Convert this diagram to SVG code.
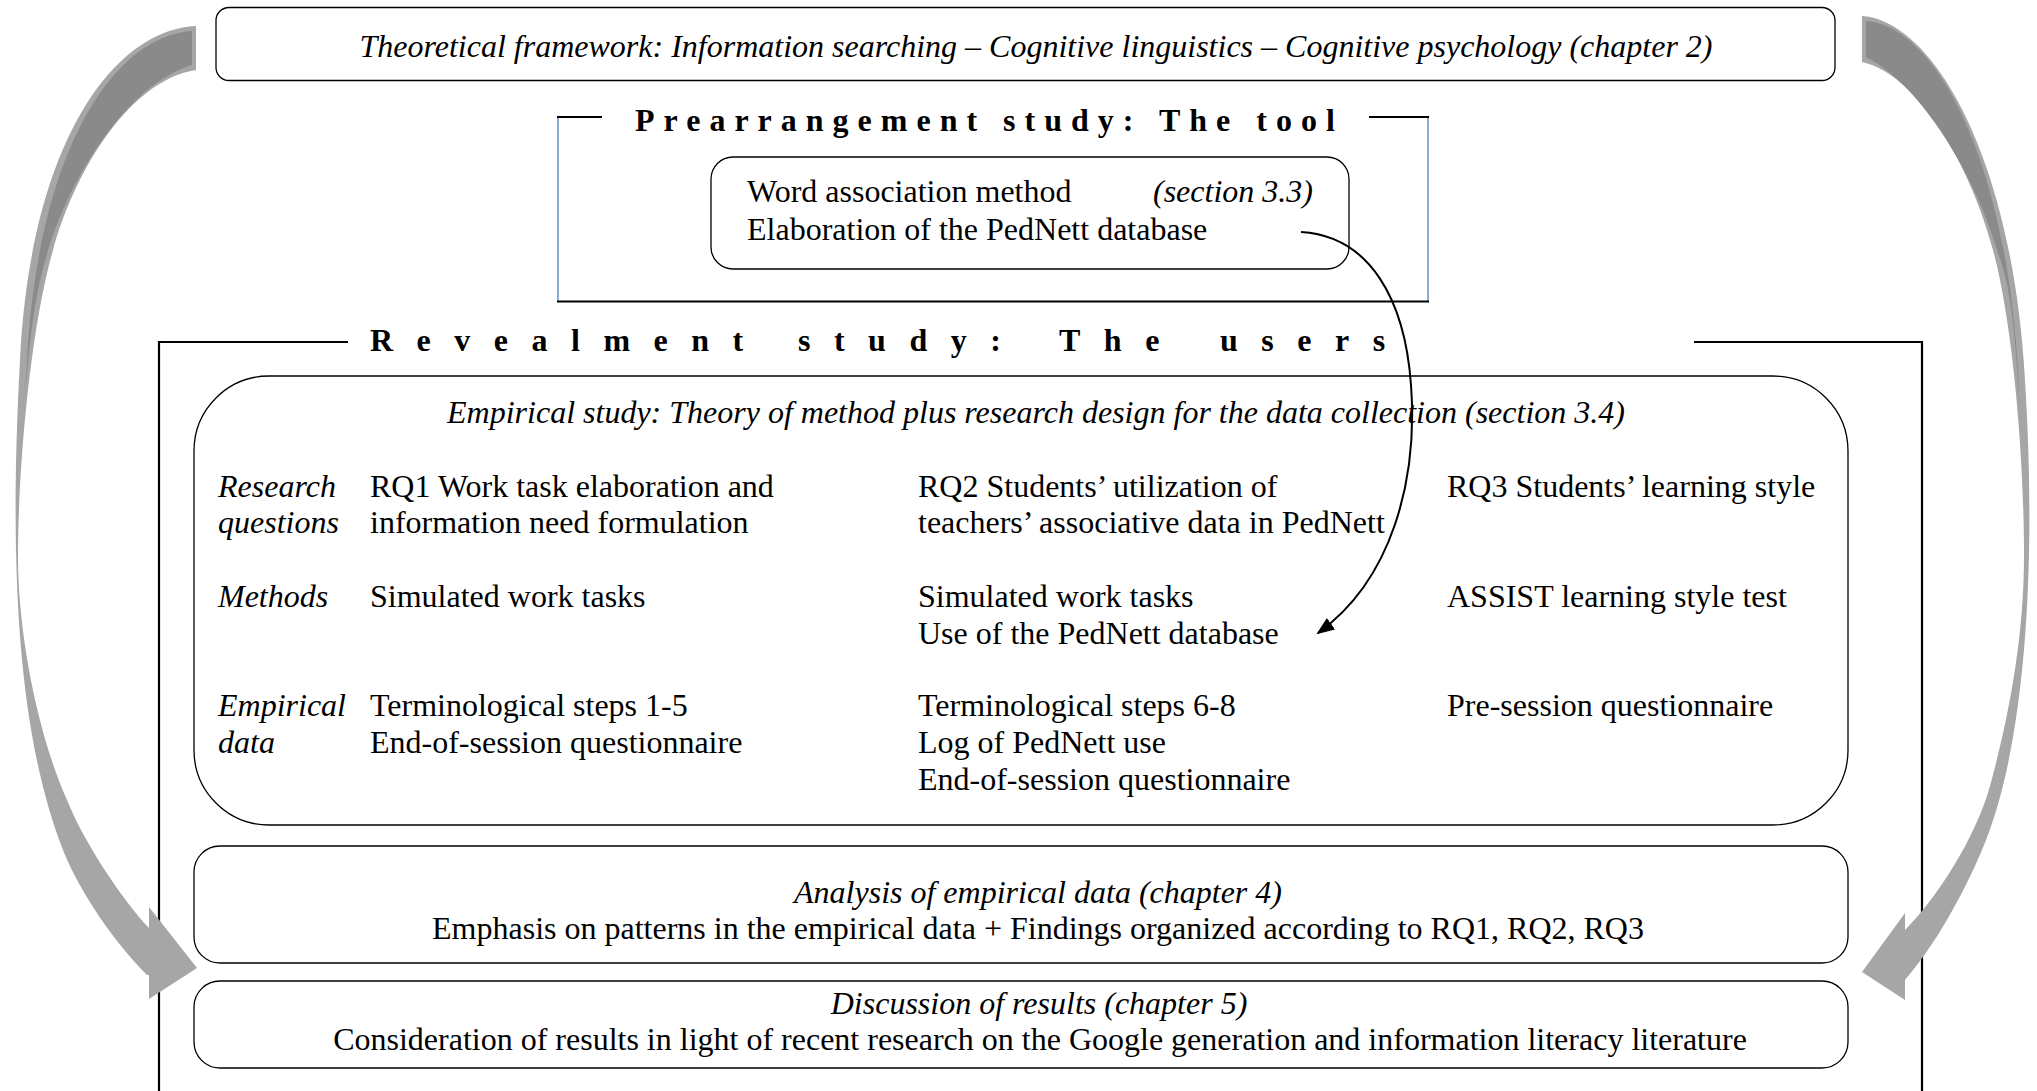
<svg xmlns="http://www.w3.org/2000/svg" width="2037" height="1091" viewBox="0 0 2037 1091">
<style>
text{font-family:"Liberation Serif","Times New Roman",serif;font-size:32px;fill:#000}
.it{font-style:italic}
.ttl{font-weight:bold;font-size:32px}
.box{fill:none;stroke:#000;stroke-width:1.3}
.frame{fill:none;stroke:#000;stroke-width:2.2}
.blue{fill:none;stroke:#4f81bd;stroke-width:1.3}
.band{fill:#a6a6a6}
.back{fill:#8a8a8a}
.conn{fill:none;stroke:#000;stroke-width:2}
</style>
<defs>
<marker id="ah" viewBox="0 0 18 14" refX="16" refY="7" markerWidth="18" markerHeight="14" markerUnits="userSpaceOnUse" orient="auto">
<path d="M0,0 L18,7 L0,14 z" fill="#000"/>
</marker>
</defs>
<rect width="2037" height="1091" fill="#fff"/>

<g id="theory">
<rect class="box" x="216" y="7.5" width="1619" height="73" rx="13"/>
<text class="it" x="1036" y="57" text-anchor="middle">Theoretical framework: Information searching – Cognitive linguistics – Cognitive psychology (chapter 2)</text>
</g>

<g id="prearrangement">
<line class="blue" x1="558" y1="117" x2="558" y2="302"/>
<line class="blue" x1="1428" y1="117" x2="1428" y2="302"/>
<line class="frame" x1="557" y1="117" x2="602" y2="117"/>
<line class="frame" x1="1369" y1="117" x2="1429" y2="117"/>
<line class="frame" x1="557" y1="301.5" x2="1429" y2="301.5"/>
<text class="ttl" x="635" y="131" letter-spacing="9">Prearrangement study: The tool</text>
</g>

<g id="word-association">
<rect class="box" x="711" y="157" width="638" height="112" rx="22"/>
<text x="747" y="202">Word association method</text>
<text class="it" x="1153" y="202">(section 3.3)</text>
<text x="747" y="240">Elaboration of the PedNett database</text>
</g>

<g id="revealment">
<polyline class="frame" points="348,342 159,342 159,1091"/>
<polyline class="frame" points="1694,342 1922,342 1922,1091"/>
<text class="ttl" y="351" letter-spacing="23.5"><tspan x="370">Revealment</tspan><tspan x="798">study:</tspan><tspan x="1059">The</tspan><tspan x="1220">users</tspan></text>
</g>

<g id="empirical-study">
<rect class="box" x="194" y="376" width="1654" height="449" rx="75"/>
<text class="it" x="1036" y="423" text-anchor="middle">Empirical study: Theory of method plus research design for the data collection (section 3.4)</text>
<text class="it" x="218" y="497">Research</text>
<text class="it" x="218" y="533">questions</text>
<text class="it" x="218" y="607">Methods</text>
<text class="it" x="218" y="716">Empirical</text>
<text class="it" x="218" y="753">data</text>
<text x="370" y="497">RQ1 Work task elaboration and</text>
<text x="370" y="533">information need formulation</text>
<text x="370" y="607">Simulated work tasks</text>
<text x="370" y="716">Terminological steps 1-5</text>
<text x="370" y="753">End-of-session questionnaire</text>
<text x="918" y="497">RQ2 Students’ utilization of</text>
<text x="918" y="533">teachers’ associative data in PedNett</text>
<text x="918" y="607">Simulated work tasks</text>
<text x="918" y="644">Use of the PedNett database</text>
<text x="918" y="716">Terminological steps 6-8</text>
<text x="918" y="753">Log of PedNett use</text>
<text x="918" y="790">End-of-session questionnaire</text>
<text x="1447" y="497">RQ3 Students’ learning style</text>
<text x="1447" y="607">ASSIST learning style test</text>
<text x="1447" y="716">Pre-session questionnaire</text>
</g>

<g id="analysis">
<rect class="box" x="194" y="846" width="1654" height="117" rx="26"/>
<text class="it" x="1038" y="903" text-anchor="middle">Analysis of empirical data (chapter 4)</text>
<text x="1038" y="939" text-anchor="middle">Emphasis on patterns in the empirical data + Findings organized according to RQ1, RQ2, RQ3</text>
</g>

<g id="discussion">
<rect class="box" x="194" y="981" width="1654" height="87" rx="26"/>
<text class="it" x="1039" y="1014" text-anchor="middle">Discussion of results (chapter 5)</text>
<text x="1040" y="1050" text-anchor="middle">Consideration of results in light of recent research on the Google generation and information literacy literature</text>
</g>

<g id="connectors">
<g id="left-loop-arrow">
<path class="band" d="M196,26 C110,30 30,150 20,360 C8,580 20,740 63,850 C80,893 115,943 147,975 L149,975 L149,999 L197,968 L149,907 L149,928 C125,903 85,845 67,800 C40,740 18,640 18,556 C18,470 30,330 53,250 C75,170 130,80 196,70 Z"/>
<path class="back" d="M192,31 C113,36 38,152 27,360 L24,420 C28,340 36,290 47,254 C70,176 128,84 192,65 Z"/>
</g>
<g id="right-loop-arrow">
<path class="band" d="M1862,16 C1930,20 2012,150 2025,380 C2037,570 2025,750 1982,850 C1962,897 1935,945 1905,980 L1905,1000 L1862,972 L1905,913 L1905,930 C1935,900 1975,840 1990,786 C2008,720 2024,640 2024,556 C2024,450 2012,320 1993,250 C1972,170 1920,75 1862,62 Z"/>
<path class="back" d="M1866,21 C1932,25 2005,150 2018,370 L2020,420 C2016,330 2010,285 1999,256 C1976,175 1920,84 1866,57 Z"/>
</g>
<path id="pednett-link" class="conn" d="M1301,232 C1370,236 1405,300 1411,385 C1418,480 1392,580 1318,633" marker-end="url(#ah)"/>
</g>
</svg>
